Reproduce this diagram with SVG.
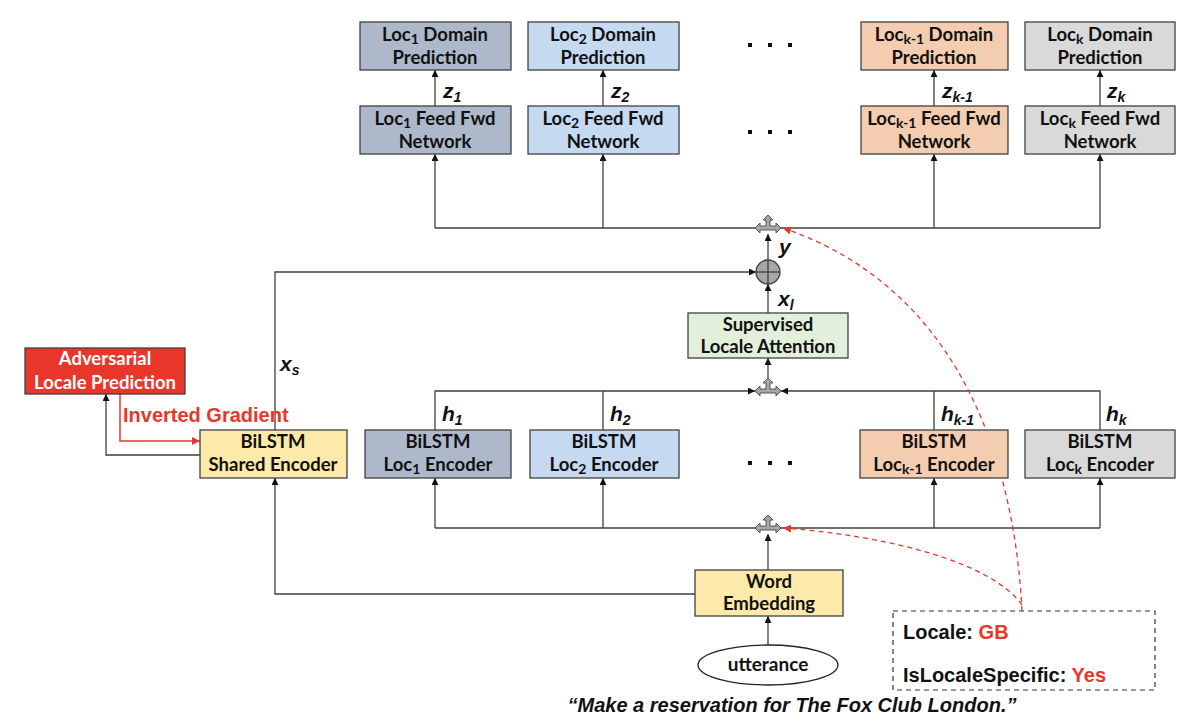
<svg xmlns="http://www.w3.org/2000/svg" width="1200" height="727" viewBox="0 0 1200 727">
<defs>
<style>
.box{stroke:#404040;stroke-width:1.3}
.t{font-family:Lato,"Open Sans",sans-serif;font-weight:700;font-size:18.5px;fill:#111;text-anchor:middle}
.v{font-family:"Liberation Sans",Arial,sans-serif;font-weight:700;font-style:italic;font-size:21px;fill:#111}
.sub{font-size:14px}
.ln{fill:none;stroke:#404040;stroke-width:1.3}
.red{fill:none;stroke:#e8372a;stroke-width:1.3;stroke-dasharray:5,4}
.hub{fill:#a6a6a6;stroke:#555;stroke-width:1}
.dot{fill:#111}
.a{font-family:"Liberation Sans",Arial,sans-serif;font-weight:700;font-size:20px;fill:#111}
</style>
<marker id="ah" viewBox="0 0 10 10" refX="10" refY="5" markerWidth="7" markerHeight="7" orient="auto" markerUnits="userSpaceOnUse"><path d="M0,0 L10,5 L0,10 z" fill="#111"/></marker>
<marker id="ahr" viewBox="0 0 10 10" refX="10" refY="5" markerWidth="8" markerHeight="8" orient="auto" markerUnits="userSpaceOnUse"><path d="M0,0 L10,5 L0,10 z" fill="#e8372a"/></marker>
<path id="hubshape" d="M-13,0 L-8,-5 L-8,-2 L-2,-2 L-2,-8 L-5,-8 L0,-13 L5,-8 L2,-8 L2,-2 L8,-2 L8,-5 L13,0 L8,5 L8,2 L-8,2 L-8,5 Z"/>
</defs>

<g id="connectors">
<line class="ln" x1="435" y1="106" x2="435" y2="70" marker-end="url(#ah)"/>
<line class="ln" x1="603" y1="106" x2="603" y2="70" marker-end="url(#ah)"/>
<line class="ln" x1="934" y1="106" x2="934" y2="70" marker-end="url(#ah)"/>
<line class="ln" x1="1100" y1="106" x2="1100" y2="70" marker-end="url(#ah)"/>
<line class="ln" x1="435" y1="228" x2="1100" y2="228"/>
<line class="ln" x1="435" y1="228" x2="435" y2="154" marker-end="url(#ah)"/>
<line class="ln" x1="603" y1="228" x2="603" y2="154" marker-end="url(#ah)"/>
<line class="ln" x1="934" y1="228" x2="934" y2="154" marker-end="url(#ah)"/>
<line class="ln" x1="1100" y1="228" x2="1100" y2="154" marker-end="url(#ah)"/>
<line class="ln" x1="768" y1="260" x2="768" y2="234" marker-end="url(#ah)"/>
<line class="ln" x1="768" y1="313" x2="768" y2="284" marker-end="url(#ah)"/>
<polyline class="ln" points="275,430 275,272 756,272" marker-end="url(#ah)"/>
<polyline class="ln" points="435,430 435,391 755,391" marker-end="url(#ah)"/>
<polyline class="ln" points="1100,430 1100,391 781,391" marker-end="url(#ah)"/>
<line class="ln" x1="603" y1="430" x2="603" y2="391"/>
<line class="ln" x1="934" y1="430" x2="934" y2="391"/>
<line class="ln" x1="768" y1="385" x2="768" y2="358" marker-end="url(#ah)"/>
<line class="ln" x1="435" y1="528" x2="1100" y2="528"/>
<line class="ln" x1="435" y1="528" x2="435" y2="478" marker-end="url(#ah)"/>
<line class="ln" x1="603" y1="528" x2="603" y2="478" marker-end="url(#ah)"/>
<line class="ln" x1="934" y1="528" x2="934" y2="478" marker-end="url(#ah)"/>
<line class="ln" x1="1100" y1="528" x2="1100" y2="478" marker-end="url(#ah)"/>
<line class="ln" x1="768" y1="570" x2="768" y2="534" marker-end="url(#ah)"/>
<polyline class="ln" points="695,594 275,594 275,478" marker-end="url(#ah)"/>
<line class="ln" x1="768" y1="645" x2="768" y2="616" marker-end="url(#ah)"/>
<polyline class="ln" points="200,455 106,455 106,394" marker-end="url(#ah)"/>
<polyline fill="none" stroke="#e8372a" stroke-width="1.5" points="120,394 120,441 200,441" marker-end="url(#ahr)"/>
<path class="red" d="M1022,611 C1015,470 965,290 783,228" marker-end="url(#ahr)"/>
<path class="red" d="M1022,605 C990,560 880,535 783,528" marker-end="url(#ahr)"/>
</g>

<g id="hubs">
<use href="#hubshape" class="hub" x="768" y="228"/>
<use href="#hubshape" class="hub" x="768" y="391"/>
<use href="#hubshape" class="hub" x="768" y="528"/>
</g>

<g id="sum">
<circle cx="768" cy="272" r="12" fill="#a6a6a6" stroke="#404040" stroke-width="1.3"/>
<line x1="756" y1="272" x2="780" y2="272" stroke="#404040" stroke-width="1.3"/>
<line x1="768" y1="260" x2="768" y2="284" stroke="#404040" stroke-width="1.3"/>
</g>

<g id="dom1"><rect class="box" x="360" y="22" width="151" height="48" fill="#adb9ca"/>
<text class="t" x="435" y="41">Loc<tspan class="sub" dy="3">1</tspan><tspan dy="-3"> Domain</tspan></text><text class="t" x="435" y="64">Prediction</text></g>
<g id="dom2"><rect class="box" x="528" y="22" width="151" height="48" fill="#c5d9f1"/>
<text class="t" x="603" y="41">Loc<tspan class="sub" dy="3">2</tspan><tspan dy="-3"> Domain</tspan></text><text class="t" x="603" y="64">Prediction</text></g>
<g id="domk1"><rect class="box" x="861" y="22" width="147" height="48" fill="#f4ccb0"/>
<text class="t" x="934" y="41">Loc<tspan class="sub" dy="3">k-1</tspan><tspan dy="-3"> Domain</tspan></text><text class="t" x="934" y="64">Prediction</text></g>
<g id="domk"><rect class="box" x="1025" y="22" width="150" height="48" fill="#d9d9d9"/>
<text class="t" x="1100" y="41">Loc<tspan class="sub" dy="3">k</tspan><tspan dy="-3"> Domain</tspan></text><text class="t" x="1100" y="64">Prediction</text></g>

<g id="ff1"><rect class="box" x="360" y="106" width="151" height="48" fill="#adb9ca"/>
<text class="t" x="435" y="125">Loc<tspan class="sub" dy="3">1</tspan><tspan dy="-3"> Feed Fwd</tspan></text><text class="t" x="435" y="148">Network</text></g>
<g id="ff2"><rect class="box" x="528" y="106" width="151" height="48" fill="#c5d9f1"/>
<text class="t" x="603" y="125">Loc<tspan class="sub" dy="3">2</tspan><tspan dy="-3"> Feed Fwd</tspan></text><text class="t" x="603" y="148">Network</text></g>
<g id="ffk1"><rect class="box" x="861" y="106" width="147" height="48" fill="#f4ccb0"/>
<text class="t" x="934" y="125">Loc<tspan class="sub" dy="3">k-1</tspan><tspan dy="-3"> Feed Fwd</tspan></text><text class="t" x="934" y="148">Network</text></g>
<g id="ffk"><rect class="box" x="1025" y="106" width="150" height="48" fill="#d9d9d9"/>
<text class="t" x="1100" y="125">Loc<tspan class="sub" dy="3">k</tspan><tspan dy="-3"> Feed Fwd</tspan></text><text class="t" x="1100" y="148">Network</text></g>

<g id="labels">
<text class="v" x="443" y="98">z<tspan class="sub" dy="4">1</tspan></text>
<text class="v" x="611" y="98">z<tspan class="sub" dy="4">2</tspan></text>
<text class="v" x="942" y="98">z<tspan class="sub" dy="4">k-1</tspan></text>
<text class="v" x="1107" y="98">z<tspan class="sub" dy="4">k</tspan></text>
<text class="v" x="779" y="254">y</text>
<text class="v" x="778" y="306">x<tspan class="sub" dy="4">l</tspan></text>
<text class="v" x="280" y="371">x<tspan class="sub" dy="4">s</tspan></text>
<text class="v" x="442" y="421">h<tspan class="sub" dy="4">1</tspan></text>
<text class="v" x="610" y="421">h<tspan class="sub" dy="4">2</tspan></text>
<text class="v" x="941" y="421">h<tspan class="sub" dy="4">k-1</tspan></text>
<text class="v" x="1106" y="421">h<tspan class="sub" dy="4">k</tspan></text>
<text class="a" x="123" y="422" style="fill:#e8372a">Inverted Gradient</text>
</g>

<g id="dots">
<rect class="dot" x="748" y="43" width="4" height="4"/><rect class="dot" x="768" y="43" width="4" height="4"/><rect class="dot" x="788" y="43" width="4" height="4"/>
<rect class="dot" x="748" y="130" width="4" height="4"/><rect class="dot" x="768" y="130" width="4" height="4"/><rect class="dot" x="788" y="130" width="4" height="4"/>
<rect class="dot" x="748" y="461" width="4" height="4"/><rect class="dot" x="768" y="461" width="4" height="4"/><rect class="dot" x="788" y="461" width="4" height="4"/>
</g>

<g id="attention"><rect class="box" x="688" y="313" width="160" height="45" fill="#e2efda"/>
<text class="t" x="768" y="331">Supervised</text><text class="t" x="768" y="353">Locale Attention</text></g>

<g id="adversarial"><rect x="25" y="348" width="160" height="46" fill="#e8372a" stroke="#404040" stroke-width="1.3"/>
<text class="t" x="105" y="365" style="fill:#fff">Adversarial</text><text class="t" x="105" y="389" style="fill:#fff">Locale Prediction</text></g>

<g id="shared"><rect class="box" x="200" y="430" width="147" height="48" fill="#fde9a9"/>
<text class="t" x="273" y="448">BiLSTM</text><text class="t" x="273" y="471">Shared Encoder</text></g>
<g id="enc1"><rect class="box" x="365" y="430" width="146" height="48" fill="#adb9ca"/>
<text class="t" x="438" y="448">BiLSTM</text><text class="t" x="438" y="471">Loc<tspan class="sub" dy="3">1</tspan><tspan dy="-3"> Encoder</tspan></text></g>
<g id="enc2"><rect class="box" x="530" y="430" width="149" height="48" fill="#c5d9f1"/>
<text class="t" x="604" y="448">BiLSTM</text><text class="t" x="604" y="471">Loc<tspan class="sub" dy="3">2</tspan><tspan dy="-3"> Encoder</tspan></text></g>
<g id="enck1"><rect class="box" x="860" y="430" width="148" height="48" fill="#f4ccb0"/>
<text class="t" x="934" y="448">BiLSTM</text><text class="t" x="934" y="471">Loc<tspan class="sub" dy="3">k-1</tspan><tspan dy="-3"> Encoder</tspan></text></g>
<g id="enck"><rect class="box" x="1025" y="430" width="150" height="48" fill="#d9d9d9"/>
<text class="t" x="1100" y="448">BiLSTM</text><text class="t" x="1100" y="471">Loc<tspan class="sub" dy="3">k</tspan><tspan dy="-3"> Encoder</tspan></text></g>

<g id="embedding"><rect class="box" x="695" y="570" width="148" height="46" fill="#fde9a9"/>
<text class="t" x="769" y="588">Word</text><text class="t" x="769" y="610">Embedding</text></g>

<g id="utterance"><ellipse cx="768" cy="665" rx="70" ry="20" fill="#fff" stroke="#222" stroke-width="1.3"/>
<text class="t" x="768" y="671" style="font-size:19px">utterance</text></g>

<g id="locale"><rect x="893" y="611" width="262" height="79" fill="#fff" stroke="#333" stroke-width="1.2" stroke-dasharray="5,4"/>
<text class="a" x="903" y="639">Locale: <tspan fill="#e8372a">GB</tspan></text>
<text class="a" x="903" y="682">IsLocaleSpecific: <tspan fill="#e8372a">Yes</tspan></text></g>

<text class="a" x="792" y="712" text-anchor="middle" font-style="italic">“Make a reservation for The Fox Club London.”</text>
</svg>
